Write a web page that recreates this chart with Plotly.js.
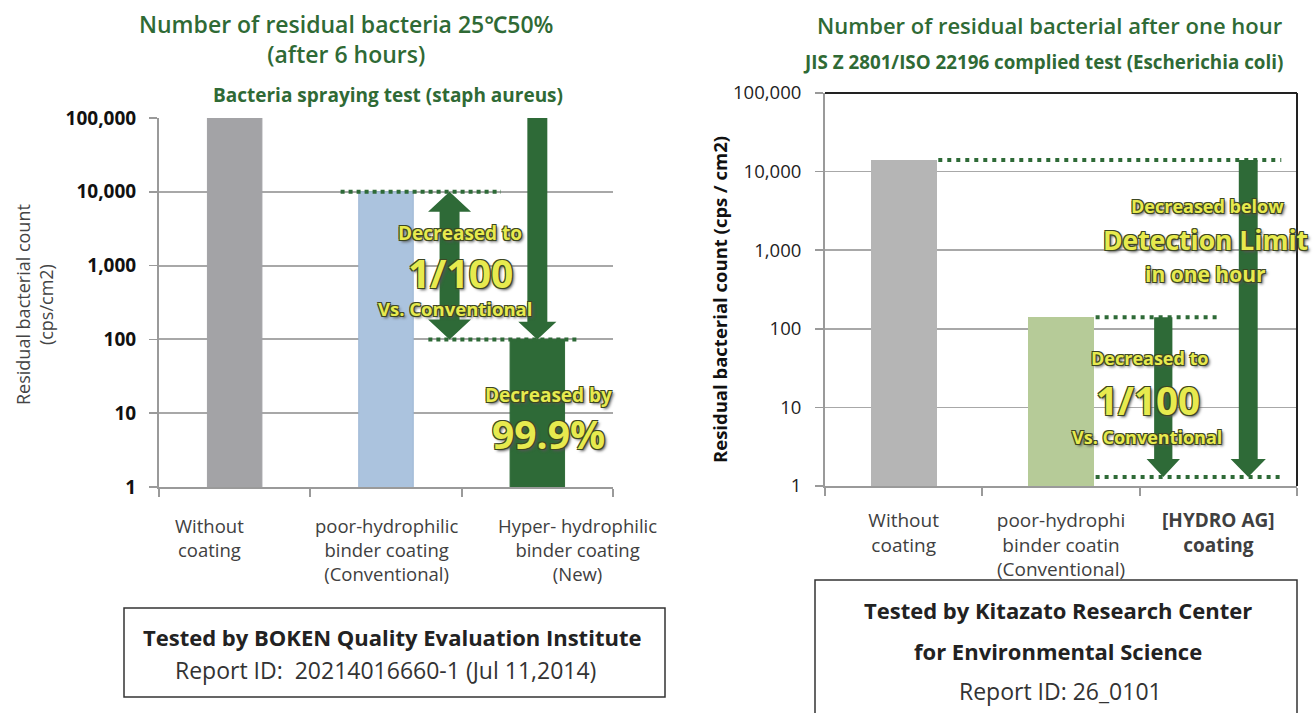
<!DOCTYPE html>
<html>
<head>
<meta charset="utf-8">
<script src="https://cdn.plot.ly/plotly-3.0.1.min.js"></script>
<style>
  html, body { margin: 0; padding: 0; background: #fff; }
  #chart { width: 1314px; height: 713px; }
</style>
</head>
<body>
<div id="chart"></div>
<script>
// ---- data ----
const leftCategories = [
  'Without<br>coating',
  'poor-hydrophilic<br>binder coating<br>(Conventional)',
  'Hyper- hydrophilic<br>binder coating<br>(New)'
];
const leftCounts = [100000, 10000, 100];          // cps/cm2 after 6 hours
const rightCategories = [
  'Without<br>coating',
  'poor-hydrophi<br>binder coatin<br>(Conventional)',
  '<b>[HYDRO AG]</b><br><b>coating</b>'
];
const rightCounts = [14000, 140, null];           // cps/cm2 after one hour
const detectionLimit = 1.3;                       // HYDRO AG result lies below this
const countTicks = [1, 10, 100, 1000, 10000, 100000];
const countTickLabels = ['1', '10', '100', '1,000', '10,000', '100,000'];

// ---- style ----
const W = 1314, H = 713;
const FONT = '"Open Sans", "Noto Sans", sans-serif';
const TITLE_GREEN = '#2f6a35';
const DARK_GREEN = '#2e6a37';
const CALLOUT = '#e7ea4e';
const CALLOUT_SHADOW = '-1px -1px 0 #3d4722, 1px -1px 0 #3d4722, -1px 1px 0 #3d4722, 1px 1px 0 #3d4722, 2px 2px 3px #555';
const leftColors = ['#a3a3a6', '#abc3de', DARK_GREEN];
const rightColors = ['#b5b5b5', '#b6cb98', DARK_GREEN];
const leftLabelShift = [-25, 0, 40];   // px nudges for the left category captions
const slots = leftCategories.map((_, i) => i + 0.5);

// paper position helper (pixels -> paper fraction), text centred on the point
const P = (x, y) => ({ x: x / W, y: 1 - y / H, xref: 'paper', yref: 'paper',
                       xanchor: 'center', yanchor: 'middle' });

// filled arrow outline in data space; shaft/head widths in x units, head length in decades
function arrowTrace(xa, ya, xc, from, to, shaft, head, headLen, both) {
  const lt = Math.log10(from), lb = Math.log10(to);
  const topBase = Math.pow(10, lt - headLen);
  const botBase = Math.pow(10, lb + headLen);
  let xs, ys;
  if (both) {
    xs = [xc, xc + head, xc + shaft, xc + shaft, xc + head, xc, xc - head, xc - shaft, xc - shaft, xc - head, xc];
    ys = [from, topBase, topBase, botBase, botBase, to, botBase, botBase, topBase, topBase, from];
  } else {
    xs = [xc - shaft, xc + shaft, xc + shaft, xc + head, xc, xc - head, xc - shaft, xc - shaft];
    ys = [from, from, botBase, botBase, to, botBase, botBase, from];
  }
  return { type: 'scatter', mode: 'lines', x: xs, y: ys, xaxis: xa, yaxis: ya,
           fill: 'toself', fillcolor: DARK_GREEN, line: { width: 0, color: DARK_GREEN },
           hoverinfo: 'skip', showlegend: false };
}

function dottedTrace(xa, ya, x0, x1, value, dash) {
  return { type: 'scatter', mode: 'lines', x: [x0, x1], y: [value, value], xaxis: xa, yaxis: ya,
           line: { color: DARK_GREEN, width: 4, dash: dash }, hoverinfo: 'skip', showlegend: false };
}

const traces = [
  { type: 'bar', x: slots, y: leftCounts, width: 0.36, xaxis: 'x', yaxis: 'y',
    marker: { color: leftColors, line: { color: ['#a3a3a6', '#9db6d4', DARK_GREEN], width: 1 } },
    hoverinfo: 'skip', showlegend: false },
  { type: 'bar', x: slots, y: rightCounts, width: 0.42, xaxis: 'x2', yaxis: 'y2',
    marker: { color: rightColors }, hoverinfo: 'skip', showlegend: false },

  dottedTrace('x', 'y', 1.2, 2.26, leftCounts[1], '4px,4px'),
  dottedTrace('x', 'y', 1.78, 2.77, leftCounts[2], '4px,4px'),
  arrowTrace('x', 'y', 1.92, leftCounts[1], leftCounts[2], 0.066, 0.142, 0.27, true),
  arrowTrace('x', 'y', 2.5, leftCounts[0], leftCounts[2], 0.066, 0.126, 0.24, false),

  dottedTrace('x2', 'y2', 0.72, 2.9, rightCounts[0], '4px,5px'),
  dottedTrace('x2', 'y2', 1.72, 2.5, rightCounts[1], '4px,5px'),
  dottedTrace('x2', 'y2', 1.72, 2.91, detectionLimit, '4px,5px'),
  arrowTrace('x2', 'y2', 2.15, rightCounts[1], detectionLimit, 0.058, 0.106, 0.23, false),
  arrowTrace('x2', 'y2', 2.69, rightCounts[0], detectionLimit, 0.06, 0.112, 0.23, false)
];

function catAxis(domain, labels, color, standoff) {
  return {
    domain: domain, range: [0, 3], fixedrange: true, zeroline: false, showgrid: false,
    showline: true, linecolor: '#9a9a9a', linewidth: 2,
    tickmode: 'array', tickvals: slots, ticktext: labels, ticks: '', tickangle: 0,
    ticklabelstandoff: standoff,
    tickfont: { family: FONT, size: 19, color: color },
    minor: { tickmode: 'array', tickvals: [0, 1, 2, 3], ticks: 'outside', ticklen: 8,
             tickcolor: '#9a9a9a', tickwidth: 2, showgrid: false }
  };
}

function countAxis(domain, anchor, gridWidth, tickFont, standoff) {
  return {
    domain: domain, anchor: anchor, type: 'log', range: [0, 5], fixedrange: true,
    tickmode: 'array', tickvals: countTicks, ticktext: countTickLabels,
    ticks: 'outside', ticklen: 8, tickcolor: '#9a9a9a', tickwidth: 1.5,
    showline: true, linecolor: '#9a9a9a', linewidth: 2,
    showgrid: true, gridcolor: '#a8a8a8', gridwidth: gridWidth,
    ticklabelstandoff: standoff, tickfont: tickFont
  };
}

const callout = (px, py, text, size) => Object.assign(P(px, py), {
  text: text, showarrow: false,
  font: { family: FONT, size: size, color: CALLOUT, weight: 700, shadow: CALLOUT_SHADOW }
});
const label = (px, py, text, size, color, weight, angle) => Object.assign(P(px, py), {
  text: text, showarrow: false, textangle: angle || 0,
  font: { family: FONT, size: size, color: color, weight: weight }
});

// left category captions sit under their slots, nudged apart so they do not touch
const leftCaptions = leftCategories.map((text, i) => ({
  x: slots[i], xref: 'x', y: 1 - 511 / H, yref: 'paper', xanchor: 'center', yanchor: 'top',
  xshift: leftLabelShift[i], text: text, showarrow: false,
  font: { family: FONT, size: 18.5, color: '#404040' }
}));

const annotations = leftCaptions.concat([
  // left chart headings
  label(346, 39, 'Number of residual bacteria 25℃50%<br>(after 6 hours)', 23, TITLE_GREEN, 600),
  label(388, 95, 'Bacteria spraying test (staph aureus)', 19, TITLE_GREEN, 700),
  label(34, 305, 'Residual bacterial count<br>(cps/cm2)', 18, '#444', 400, -90),
  // left callouts
  callout(460, 233, 'Decreased to', 19),
  callout(460, 272, '1/100', 39),
  callout(455, 308, 'Vs. Conventional', 18.5),
  callout(548, 395, 'Decreased by', 19),
  callout(548, 433, '99.9%', 39),
  // left report box
  label(392, 637, 'Tested by BOKEN Quality Evaluation Institute', 22, '#222', 700),
  label(385, 670, 'Report ID:  20214016660-1 (Jul 11,2014)', 23, '#333', 400),

  // right chart headings
  label(1050, 25, 'Number of residual bacterial after one hour', 22, TITLE_GREEN, 600),
  label(1043, 62, 'JIS Z 2801/ISO 22196 complied test (Escherichia coli)', 18.8, TITLE_GREEN, 700),
  label(719, 300, 'Residual bacterial count (cps / cm2)', 18.5, '#111', 700, -90),
  // right callouts
  callout(1207, 206, 'Decreased below', 18),
  callout(1205, 240, 'Detection Limit', 26.5),
  callout(1205, 274, 'in one hour', 21),
  callout(1150, 358, 'Decreased to', 18),
  callout(1148, 400, '1/100', 38.5),
  callout(1147, 437, 'Vs. Conventional', 18),
  // right report box
  label(1058, 610, 'Tested by Kitazato Research Center', 22, '#222', 700),
  label(1058, 651, 'for Environmental Science', 22, '#222', 700),
  label(1060, 691, 'Report ID: 26_0101', 23, '#333', 400)
]);

const shapes = [
  // frame on top and right of the right-hand plot
  { type: 'line', xref: 'x2 domain', yref: 'y2 domain', x0: 0, x1: 1, y0: 1, y1: 1,
    line: { color: '#222', width: 2 } },
  { type: 'line', xref: 'x2 domain', yref: 'y2 domain', x0: 1, x1: 1, y0: 0, y1: 1,
    line: { color: '#222', width: 2 } },
  // report boxes
  { type: 'rect', xref: 'paper', yref: 'paper', x0: 124 / W, x1: 665 / W, y0: 1 - 697 / H, y1: 1 - 608 / H,
    line: { color: '#333', width: 1.5 }, fillcolor: 'rgba(0,0,0,0)' },
  { type: 'rect', xref: 'paper', yref: 'paper', x0: 815 / W, x1: 1297 / W, y0: 1 - 730 / H, y1: 1 - 580 / H,
    line: { color: '#333', width: 1.5 }, fillcolor: 'rgba(0,0,0,0)' }
];

const xLeft = catAxis([159 / W, 613 / W], leftCategories, '#404040', 20);
xLeft.showticklabels = false;
xLeft.anchor = 'y';

const layout = {
  width: W, height: H,
  margin: { l: 0, r: 0, t: 0, b: 0 },
  paper_bgcolor: '#fff', plot_bgcolor: 'rgba(0,0,0,0)',
  showlegend: false, hovermode: false, bargap: 0,
  xaxis: xLeft,
  yaxis: countAxis([1 - 487 / H, 1 - 118 / H], 'x', 2,
                   { family: FONT, size: 19, color: '#111', weight: 700 }, 9),
  xaxis2: Object.assign(catAxis([825 / W, 1297 / W], rightCategories, '#404040', 16), { anchor: 'y2' }),
  yaxis2: countAxis([1 - 486 / H, 1 - 93 / H], 'x2', 1.5,
                    { family: FONT, size: 18.5, color: '#222', weight: 400 }, 10),
  annotations: annotations,
  shapes: shapes
};

Plotly.newPlot('chart', traces, layout, { staticPlot: true, displayModeBar: false });
</script>
</body>
</html>
